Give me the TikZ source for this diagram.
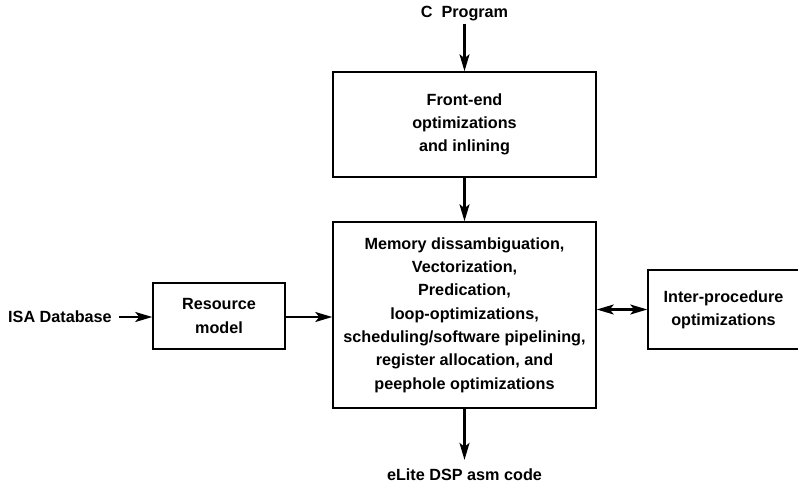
\documentclass[tikz,border=0pt]{standalone}
\usepackage{fontspec}
\setmainfont{Liberation Sans}
\usetikzlibrary{arrows.meta}
\usetikzlibrary{positioning}

\begin{document}
\begin{tikzpicture}[x=1pt,y=-1pt,
            font=\bfseries\fontsize{16.2}{23.3}\selectfont,
            tip/.tip = {Stealth[length=17pt,width=10pt,inset=4pt]},
            box/.style = {draw,line width=1.5pt,align=center,inner sep=0pt},
            label/.style = {align=center,inner sep=2pt},
            flow/.style = {line width=2.2pt,-tip}]
            \useasboundingbox (0,0) rectangle (798,487);
            \node[label](prog) at (464.5,14) {C\ \ Program};
            \node[box,minimum width=263pt,minimum height=105pt](front) at (464.5,124.5)
                {Front-end\\optimizations\\and inlining};
            \node[box,minimum width=263pt,minimum height=186pt](core) at (464.5,315)
                {Memory dissambiguation,\\Vectorization,\\Predication,\\loop-optimizations,\\scheduling/software pipelining,\\register allocation, and\\peephole optimizations};
            \node[label](asm) at (464.5,475) {eLite DSP asm code};
            \node[label](isa) at (60,317) {ISA Database};
            \node[box,minimum width=132pt,minimum height=66pt](res) at (219,316)
                {Resource\\model};
            \node[box,minimum width=151pt,minimum height=79pt](inter) at (723.5,309.5)
                {Inter-procedure\\optimizations};
            \draw[flow] (prog) -- (front);
            \draw[flow] (front) -- (core);
            \draw[flow] (core) -- ([yshift=7pt]asm.north);
            \draw[flow] ([xshift=5pt]isa.east) -- (res.west |- isa.east);
            \draw[flow] (res.east |- isa.east) -- (core.west |- isa.east);
            \draw[flow,tip-tip] (inter.west -| core.east) -- (inter.west);
\end{tikzpicture}
\end{document}
